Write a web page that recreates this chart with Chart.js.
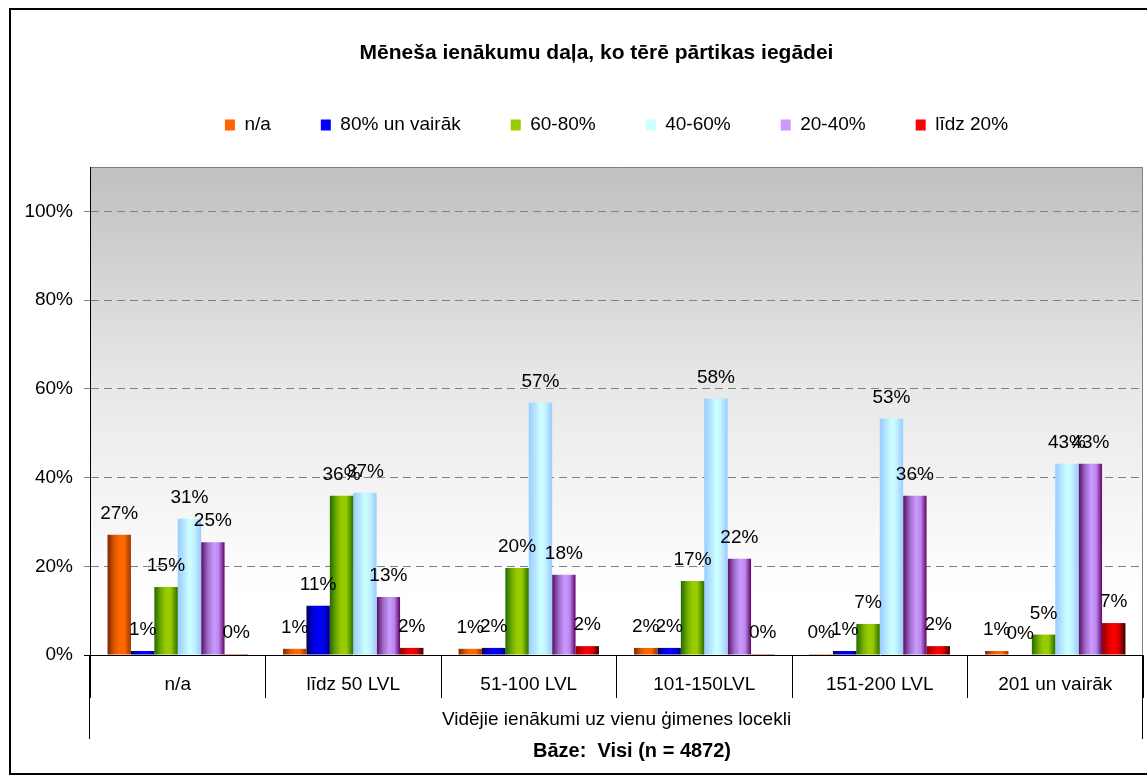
<!DOCTYPE html>
<html>
<head>
<meta charset="utf-8">
<script src="https://cdn.jsdelivr.net/npm/chart.js@4.4.1/dist/chart.umd.min.js"></script>
<style>
html,body{margin:0;padding:0;background:#fff;}
#wrap{position:relative;width:1147px;height:779px;overflow:hidden;}
#frame{position:absolute;left:9px;top:8px;width:1170px;height:767px;border:2px solid #000;box-sizing:border-box;pointer-events:none;}
canvas{position:absolute;left:0;top:0;}
</style>
</head>
<body>
<div id="wrap"><canvas id="c" width="1147" height="779"></canvas><div id="frame"></div></div>
<script>
// ---- data ----
const categories = ['n/a', 'līdz 50 LVL', '51-100 LVL', '101-150LVL', '151-200 LVL', '201 un vairāk'];
const seriesNames = ['n/a', '80% un vairāk', '60-80%', '40-60%', '20-40%', 'līdz 20%'];
const valNA    = [27.1, 1.4, 1.4, 1.6, 0.2, 0.9];
const val80    = [0.9, 11.1, 1.6, 1.6, 0.9, 0.0];
const val60_80 = [15.3, 35.9, 19.6, 16.7, 7.0, 4.6];
const val40_60 = [30.7, 36.6, 56.9, 57.8, 53.3, 43.1];
const val20_40 = [25.4, 13.1, 18.1, 21.7, 35.9, 43.1];
const valLt20  = [0.2, 1.6, 2.0, 0.2, 2.0, 7.2];
const yTicks   = [0, 20, 40, 60, 80, 100];
const chartTitle = 'Mēneša ienākumu daļa, ko tērē pārtikas iegādei';
const xTitle = 'Vidējie ienākumi uz vienu ģimenes locekli';
const baseNote = 'Bāze:  Visi (n = 4872)';

// ---- styles ----
const FONT = "'Liberation Sans', Arial, sans-serif";
const midColors = ['#ff6600', '#0000ff', '#99cc00', '#ccffff', '#cc99ff', '#ff0000'];
const gradStops = [
  [[0,'#7a2800'],[0.3,'#e05800'],[0.5,'#ff6600'],[0.72,'#ff6a00'],[1,'#9a3600']],
  [[0,'#00005a'],[0.3,'#0000e0'],[0.55,'#0000ff'],[0.75,'#0000f0'],[1,'#000070']],
  [[0,'#236b00'],[0.3,'#77b000'],[0.5,'#99cc00'],[0.7,'#99cc00'],[1,'#2a7000']],
  [[0,'#99ccff'],[0.3,'#b8e8ff'],[0.5,'#ccffff'],[0.7,'#c4f4ff'],[1,'#99ccff']],
  [[0,'#5e0a5e'],[0.3,'#a070d0'],[0.55,'#cc99ff'],[0.75,'#b888ee'],[1,'#660066']],
  [[0,'#8a0000'],[0.3,'#e00000'],[0.5,'#ff0000'],[0.72,'#dd0000'],[1,'#330000']]
];

Chart.defaults.font.family = FONT;
Chart.defaults.color = '#000';

const allValues = [valNA, val80, val60_80, val40_60, val20_40, valLt20];

const plotBg = {
  id: 'plotBg',
  afterInit(chart) {
    const lg = chart.legend;
    if (lg) {
      const f = lg.fit;
      lg.fit = function () { f.call(this); this.height += 22.4; };
    }
  },
  afterLayout(chart) {
    // the title in the original is centred on a box that starts at x = 50
    if (chart.titleBlock) chart.titleBlock.left = 50;
  },
  beforeDraw(chart) {
    const {ctx, chartArea: a} = chart;
    const g = ctx.createLinearGradient(0, a.top, 0, a.bottom);
    g.addColorStop(0, '#c0c0c0');
    g.addColorStop(0.45, '#e8e8e8');
    g.addColorStop(0.88, '#ffffff');
    g.addColorStop(1, '#ffffff');
    ctx.save();
    ctx.fillStyle = g;
    ctx.fillRect(a.left, a.top, a.right - a.left, a.bottom - a.top);
    ctx.strokeStyle = '#808080';
    ctx.lineWidth = 1;
    ctx.beginPath();
    ctx.moveTo(a.left, Math.round(a.top) + 0.5);
    ctx.lineTo(Math.round(a.right) - 0.5, Math.round(a.top) + 0.5);
    ctx.lineTo(Math.round(a.right) - 0.5, a.bottom);
    ctx.stroke();
    ctx.restore();
  }
};

const barGrad = {
  id: 'barGrad',
  beforeDatasetsDraw(chart) {
    const ctx = chart.ctx;
    chart.data.datasets.forEach((ds, di) => {
      const meta = chart.getDatasetMeta(di);
      meta.data.forEach(el => {
        const p = el.getProps(['x', 'width'], true);
        if (!isFinite(p.x) || !isFinite(p.width)) return;
        const g = ctx.createLinearGradient(p.x - p.width / 2, 0, p.x + p.width / 2, 0);
        gradStops[di].forEach(s => g.addColorStop(s[0], s[1]));
        el.options = Object.assign({}, el.options, {backgroundColor: g});
      });
    });
  }
};

const valueLabels = {
  id: 'valueLabels',
  afterDatasetsDraw(chart) {
    const ctx = chart.ctx;
    ctx.save();
    ctx.font = '19px ' + FONT;
    ctx.fillStyle = '#000';
    ctx.textAlign = 'center';
    ctx.textBaseline = 'alphabetic';
    chart.data.datasets.forEach((ds, di) => {
      const meta = chart.getDatasetMeta(di);
      meta.data.forEach((el, i) => {
        const p = el.getProps(['x', 'y'], true);
        ctx.fillText(Math.round(ds.data[i]) + '%', p.x, p.y - 16);
      });
    });
    ctx.restore();
  }
};

const extras = {
  id: 'extras',
  afterDraw(chart) {
    const {ctx, chartArea: a} = chart;
    ctx.save();
    ctx.strokeStyle = '#000';
    ctx.lineWidth = 1;
    ctx.beginPath();
    const xl = Math.round(a.left) - 0.5, xr = Math.round(a.right) - 0.5;
    ctx.moveTo(xl, a.bottom); ctx.lineTo(xl, 739);
    ctx.moveTo(xr, a.bottom); ctx.lineTo(xr, 739);
    ctx.stroke();
    ctx.font = 'bold 20px ' + FONT;
    ctx.fillStyle = '#000';
    ctx.textAlign = 'center';
    ctx.textBaseline = 'middle';
    ctx.fillText(baseNote, 632, 751);
    ctx.restore();
  }
};

new Chart(document.getElementById('c'), {
  type: 'bar',
  data: {
    labels: categories,
    datasets: seriesNames.map((name, i) => ({
      label: name,
      data: allValues[i],
      backgroundColor: midColors[i],
      borderWidth: 0,
      categoryPercentage: 0.8,
      barPercentage: 1.0
    }))
  },
  options: {
    responsive: false,
    animation: false,
    events: [],
    layout: {padding: {top: 0, left: 0, right: 4, bottom: 47.4}},
    plugins: {
      title: {
        display: true,
        text: chartTitle,
        font: {size: 21, weight: 'bold', family: FONT},
        color: '#000',
        padding: {top: 40.4, bottom: 0}
      },
      legend: {
        display: true,
        position: 'top',
        fullSize: false,
        labels: {
          boxWidth: 10,
          boxHeight: 11,
          padding: 50,
          color: '#000',
          font: {size: 19, family: FONT}
        }
      },
      tooltip: {enabled: false}
    },
    scales: {
      x: {
        grid: {
          display: true,
          offset: true,
          drawOnChartArea: false,
          drawTicks: true,
          tickLength: 43,
          tickColor: '#000',
          color: '#000'
        },
        border: {display: true, color: '#000', width: 1},
        ticks: {padding: -25, font: {size: 19, family: FONT}, color: '#000', maxRotation: 0, autoSkip: false},
        title: {display: true, text: xTitle, font: {size: 19, family: FONT}, color: '#000', padding: {top: 38, bottom: 0}}
      },
      y: {
        min: 0,
        max: 110,
        afterFit(s) { s.width = 90; },
        afterBuildTicks(s) { s.ticks = yTicks.map(v => ({value: v})); },
        grid: {
          color: c => (c.tick && c.tick.value === 0) ? 'rgba(0,0,0,0)' : '#808080',
          tickColor: c => (c.tick && c.tick.value === 0) ? '#000' : '#808080',
          tickLength: 6,
          drawOnChartArea: true
        },
        border: {display: true, color: '#000', width: 1, dash: [8, 5]},
        ticks: {
          padding: 11,
          font: {size: 19, family: FONT},
          color: '#000',
          callback: v => v + '%'
        }
      }
    }
  },
  plugins: [plotBg, barGrad, valueLabels, extras]
});
</script>
</body>
</html>
